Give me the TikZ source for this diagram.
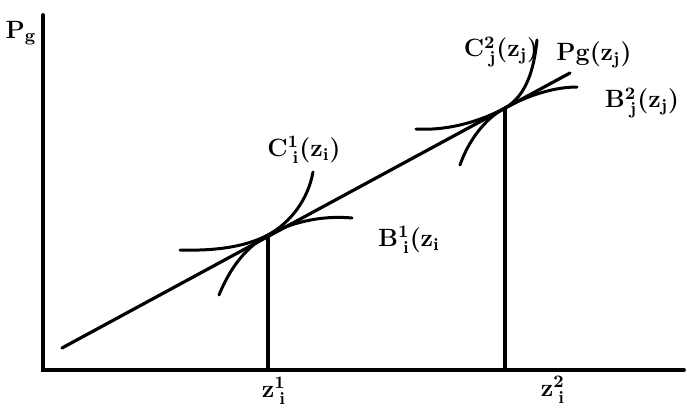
\documentclass[tikz,border=0pt]{standalone}
\usepackage{amsmath}
\usepackage{tikz}
\usetikzlibrary{positioning}
\newcommand{\pgsub}[2]{$^{\textbf{#1}}_{\hspace{2.5pt}\textbf{#2}}$}
\tikzset{
  pgaxis/.style={line width=1.9pt,line cap=round},
  pgline/.style={line width=1.6pt,line cap=round},
  pgcurve/.style={line width=1.5pt,line cap=round},
  pgdrop/.style={line width=1.6pt},
  pglabel/.style={font=\fontsize{12.5}{14}\selectfont\bfseries,inner sep=0pt}
}
\begin{document}
\begin{tikzpicture}[x=0.5pt,y=-0.5pt]
  \useasboundingbox (0,0) rectangle (687,408);
  \coordinate (top) at (43,15);
  \coordinate (origin) at (43,370);
  \coordinate (right) at (684,370);
  \coordinate (start) at (62,348);
  \coordinate (finish) at (570,73);
  \coordinate (t1) at (268,235);
  \coordinate (t2) at (505,108);
  \coordinate (t1foot) at (268,370);
  \coordinate (t2foot) at (505,370);

  \draw[pgaxis] (top) -- (origin) -- (right);
  \draw[pgline] (start) -- (finish);
  \draw[pgdrop] (t1) -- (t1foot);
  \draw[pgdrop] (t2) -- (t2foot);

  % tangent curves at the first point
  \draw[pgcurve] (219,295) .. controls (230,268) and (246,247) .. (t1)
    .. controls (290,223) and (308,200) .. (313,172);
  \draw[pgcurve] (180,250) .. controls (215,251) and (245,247) .. (t1)
    .. controls (290,223) and (320,215) .. (352,218);
  % tangent curves at the second point
  \draw[pgcurve] (460,165) .. controls (468,142) and (484,119) .. (t2)
    .. controls (526,96) and (534,70) .. (537,40);
  \draw[pgcurve] (416,129) .. controls (450,131) and (483,120) .. (t2)
    .. controls (527,96) and (553,87) .. (577,87);

  \node[pglabel] (ylab) at (21,33) {P$_{\textbf{g}}$};
  \node[pglabel] (c1lab) at (304,150) {C\pgsub{1}{i}(z$_{\textbf{i}}$)};
  \node[pglabel] (b1lab) at (409,240) {B\pgsub{1}{i}(z$_{\textbf{i}}$};
  \node[pglabel] (c2lab) at (501,52) {C\pgsub{2}{j}(z$_{\textbf{j}}$)};
  \node[pglabel] (pglab) at (594,55) {Pg(z$_{\textbf{j}}$)};
  \node[pglabel] (b2lab) at (642,103) {B\pgsub{2}{j}(z$_{\textbf{j}}$)};
  \node[pglabel] (z1lab) at (274,391) {z\pgsub{1}{i}};
  \node[pglabel] (z2lab) at (553,390) {z\pgsub{2}{i}};
\end{tikzpicture}
\end{document}
